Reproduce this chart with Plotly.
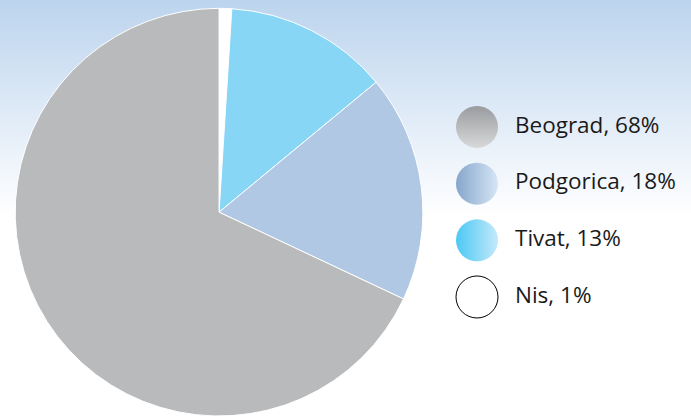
import base64
import plotly.graph_objects as go

# share of passengers by airport (legend order)
cities = ['Beograd', 'Podgorica', 'Tivat', 'Nis']
shares = [68, 18, 13, 1]
labels = [f"{c}, {s}%" for c, s in zip(cities, shares)]

# slice colours (the original uses left-to-right gradients, these are mid tones)
pie_colors = ['#b9babc', '#b0c8e3', '#88d6f6', '#ffffff']
# legend swatches: start colour -> end colour
swatch_start = ['#9a9b9e', '#86a6cb', '#4cc8f4', '#ffffff']
swatch_end = ['#d8d9da', '#d6e6f5', '#c4e9fa', '#ffffff']
swatch_dir = ['vertical', 'horizontal', 'horizontal', 'none']

# background: light blue at the top fading to white
bg_svg = """<svg xmlns='http://www.w3.org/2000/svg' width='10' height='100' preserveAspectRatio='none'>
<defs><linearGradient id='g' x1='0' y1='0' x2='0' y2='1'>
<stop offset='0' stop-color='#bcd4ee'/><stop offset='0.52' stop-color='#ffffff'/>
<stop offset='1' stop-color='#ffffff'/></linearGradient></defs>
<rect width='10' height='100' fill='url(#g)'/></svg>"""
bg_uri = 'data:image/svg+xml;base64,' + base64.b64encode(bg_svg.encode()).decode()

fig = go.Figure()

# slices run clockwise from 12 o'clock starting with the smallest one
fig.add_trace(go.Pie(
    labels=cities[::-1],
    values=shares[::-1],
    sort=False,
    direction='clockwise',
    rotation=0,
    textinfo='none',
    hoverinfo='label+percent',
    marker=dict(colors=pie_colors[::-1], line=dict(color='white', width=1)),
    domain=dict(x=[0, 0.634], y=[0, 0.98]),
    showlegend=False,
))

# hand made legend with round swatches
fig.add_trace(go.Scatter(
    x=[0] * len(cities),
    y=labels,
    mode='markers',
    marker=dict(
        size=42,
        color=swatch_start,
        gradient=dict(type=swatch_dir, color=swatch_end),
        line=dict(color='black', width=[0, 0, 0, 1]),
    ),
    hoverinfo='skip',
    showlegend=False,
))
fig.add_trace(go.Scatter(
    x=[0.38] * len(cities),
    y=labels,
    mode='text',
    text=labels,
    textposition='middle right',
    textfont=dict(family='Open Sans', size=22.5, color='#1a1a1a'),
    hoverinfo='skip',
    showlegend=False,
))

fig.update_layout(
    width=691,
    height=416,
    margin=dict(l=0, r=0, t=0, b=0),
    paper_bgcolor='white',
    plot_bgcolor='rgba(0,0,0,0)',
    xaxis=dict(range=[-4.77, 2.14], visible=False, fixedrange=True),
    yaxis=dict(type='category', categoryarray=labels, range=[5.10, -2.24],
               visible=False, fixedrange=True),
    images=[dict(source=bg_uri, xref='paper', yref='paper', x=0, y=1,
                 sizex=1, sizey=1, sizing='stretch', layer='below')],
)

# the page's default body margin would push the figure 8px off
fig.write_html("out.html", config={'displayModeBar': False},
               post_script="document.body.style.margin='0';")
